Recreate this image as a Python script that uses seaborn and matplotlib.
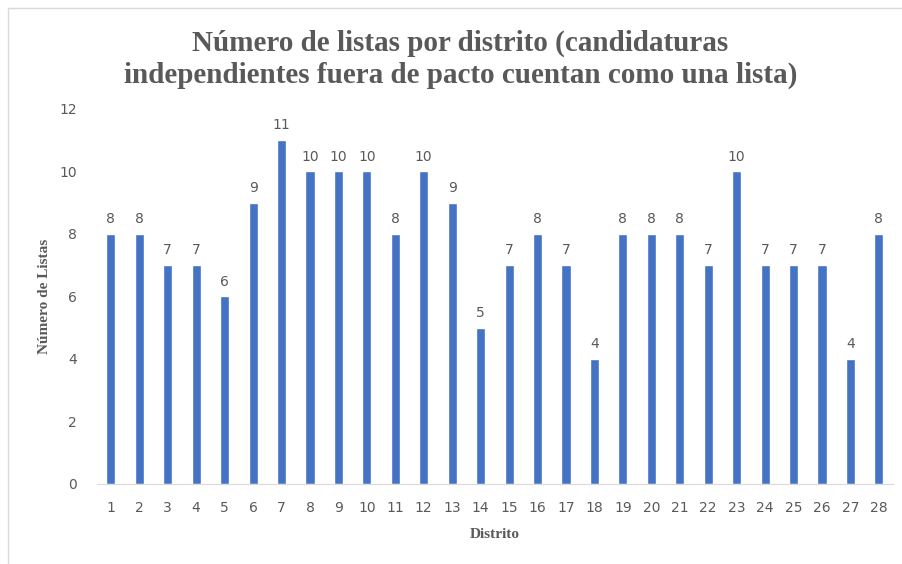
import seaborn as sns
import matplotlib.pyplot as plt
import pandas as pd
import numpy as np
from matplotlib.patches import Rectangle

distritos = [str(i) for i in range(1, 29)]
listas = [8, 8, 7, 7, 6, 9, 11, 10, 10, 10, 8, 10, 9, 5, 7, 8, 7, 4,
          8, 8, 8, 7, 10, 7, 7, 7, 4, 8]

df = pd.DataFrame({"Distrito": distritos, "Listas": listas})

sns.set_style("white")
plt.rcParams['font.family'] = ['DejaVu Sans']
gray = "#595959"

fig = plt.figure(figsize=(9.03, 5.64), dpi=100)
ax = fig.add_axes([0.107, 0.142, 0.882, 0.665])

sns.barplot(data=df, x="Distrito", y="Listas", order=distritos,
            color="#4472C4", width=0.32, saturation=1, ax=ax)

for i, v in enumerate(listas):
    ax.text(i, v + 0.25, str(v), ha="center", va="bottom",
            fontsize=10, color=gray)

ax.set_ylim(0, 12)
ax.set_yticks(range(0, 13, 2))
ax.set_xlim(-0.5, len(distritos) - 0.5)
ax.tick_params(axis="y", length=0, labelsize=10, labelcolor=gray, pad=14)
ax.tick_params(axis="x", length=0, labelsize=10, labelcolor=gray, pad=12)
ax.set_xticks(np.arange(-0.5, len(distritos)), minor=True)
ax.tick_params(axis="x", which="minor", length=5, color="#d9d9d9")

for s in ["left", "right", "top"]:
    ax.spines[s].set_visible(False)
ax.spines["bottom"].set_color("#d9d9d9")

ax.set_xlabel("Distrito", fontsize=11, fontweight="bold", color=gray,
              family="Liberation Serif", labelpad=10)
ax.set_ylabel("Número de Listas", fontsize=11, fontweight="bold", color=gray,
              family="Liberation Serif", labelpad=6)

fig.text(0.51, 0.895, "Número de listas por distrito (candidaturas\n"
         "independientes fuera de pacto cuentan como una lista)",
         ha="center", va="center", fontsize=21, fontweight="bold",
         color=gray, family="Liberation Serif", linespacing=1.2)

fig.patches.append(Rectangle((0.009, -0.01), 0.995, 0.995, transform=fig.transFigure,
                             fill=False, edgecolor="#d9d9d9", linewidth=1))

fig.savefig("out.png", dpi=100)
